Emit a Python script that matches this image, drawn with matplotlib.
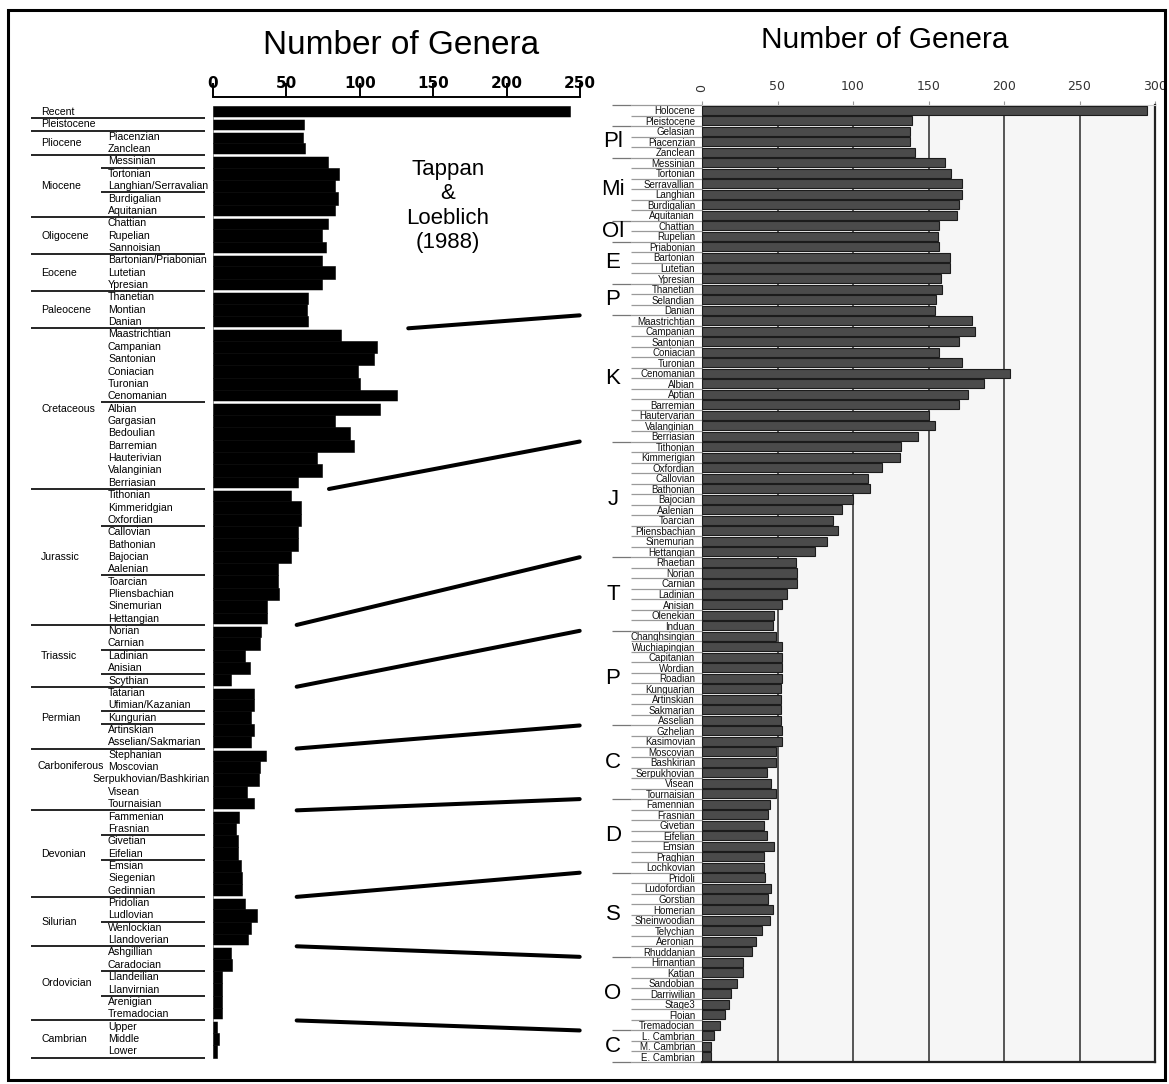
import numpy as np
import matplotlib
matplotlib.use('Agg')
import matplotlib.pyplot as plt
import matplotlib.transforms as mtransforms
from matplotlib.patches import Rectangle, ConnectionPatch

plt.rcParams['font.family'] = ['Liberation Sans', 'DejaVu Sans']

W, H = 1169, 1084

# ---- left panel: Tappan & Loeblich (1988) ----
left_periods = ['Recent', 'Pleistocene', 'Pliocene', 'Miocene', 'Oligocene', 'Eocene', 'Paleocene',
                'Cretaceous', 'Jurassic', 'Triassic', 'Permian', 'Carboniferous', 'Devonian',
                'Silurian', 'Ordovician', 'Cambrian']
left_period_sizes = [1, 1, 2, 5, 3, 3, 3, 13, 11, 5, 5, 5, 7, 4, 6, 3]
left_stages = ['', '', 'Piacenzian', 'Zanclean', 'Messinian', 'Tortonian', 'Langhian/Serravalian',
               'Burdigalian', 'Aquitanian', 'Chattian', 'Rupelian', 'Sannoisian', 'Bartonian/Priabonian',
               'Lutetian', 'Ypresian', 'Thanetian', 'Montian', 'Danian', 'Maastrichtian', 'Campanian',
               'Santonian', 'Coniacian', 'Turonian', 'Cenomanian', 'Albian', 'Gargasian', 'Bedoulian',
               'Barremian', 'Hauterivian', 'Valanginian', 'Berriasian', 'Tithonian', 'Kimmeridgian',
               'Oxfordian', 'Callovian', 'Bathonian', 'Bajocian', 'Aalenian', 'Toarcian', 'Pliensbachian',
               'Sinemurian', 'Hettangian', 'Norian', 'Carnian', 'Ladinian', 'Anisian', 'Scythian',
               'Tatarian', 'Ufimian/Kazanian', 'Kungurian', 'Artinskian', 'Asselian/Sakmarian',
               'Stephanian', 'Moscovian', 'Serpukhovian/Bashkirian', 'Visean', 'Tournaisian',
               'Fammenian', 'Frasnian', 'Givetian', 'Eifelian', 'Emsian', 'Siegenian', 'Gedinnian',
               'Pridolian', 'Ludlovian', 'Wenlockian', 'Llandoverian', 'Ashgillian', 'Caradocian',
               'Llandeilian', 'Llanvirnian', 'Arenigian', 'Tremadocian', 'Upper', 'Middle', 'Lower']
left_values = [243, 62, 61, 63, 78, 86, 83, 85, 83, 78, 74, 77, 74, 83, 74, 65, 64, 65,
               87, 112, 110, 99, 100, 125, 114, 83, 93, 96, 71, 74, 58,
               53, 60, 60, 58, 58, 53, 44, 44, 45, 37, 37,
               33, 32, 22, 25, 12, 28, 28, 26, 28, 26, 36, 32, 31, 23, 28,
               18, 16, 17, 17, 19, 20, 20, 22, 30, 26, 24, 12, 13, 6, 6, 6, 6, 3, 4, 3]
left_sub_breaks = [4, 6, 23, 33, 37, 43, 45, 48, 49, 58, 60, 65, 69, 71]
left_ticks = [0, 50, 100, 150, 200, 250]

# ---- right panel ----
right_periods = ['', 'Pl', 'Mi', 'Ol', 'E', 'P', 'K', 'J', 'T', 'P', 'C', 'D', 'S', 'O', 'C']
right_period_sizes = [2, 3, 6, 2, 4, 3, 12, 11, 7, 9, 7, 7, 8, 7, 3]
right_stages = ['Holocene', 'Pleistocene', 'Gelasian', 'Piacenzian', 'Zanclean', 'Messinian',
                'Tortonian', 'Serravallian', 'Langhian', 'Burdigalian', 'Aquitanian', 'Chattian',
                'Rupelian', 'Priabonian', 'Bartonian', 'Lutetian', 'Ypresian', 'Thanetian',
                'Selandian', 'Danian', 'Maastrichtian', 'Campanian', 'Santonian', 'Coniacian',
                'Turonian', 'Cenomanian', 'Albian', 'Aptian', 'Barremian', 'Hautervarian',
                'Valanginian', 'Berriasian', 'Tithonian', 'Kimmerigian', 'Oxfordian', 'Callovian',
                'Bathonian', 'Bajocian', 'Aalenian', 'Toarcian', 'Pliensbachian', 'Sinemurian',
                'Hettangian', 'Rhaetian', 'Norian', 'Carnian', 'Ladinian', 'Anisian', 'Olenekian',
                'Induan', 'Changhsingian', 'Wuchiapingian', 'Capitanian', 'Wordian', 'Roadian',
                'Kunguarian', 'Artinskian', 'Sakmarian', 'Asselian', 'Gzhelian', 'Kasimovian',
                'Moscovian', 'Bashkirian', 'Serpukhovian', 'Visean', 'Tournaisian', 'Famennian',
                'Frasnian', 'Givetian', 'Eifelian', 'Emsian', 'Praghian', 'Lochkovian', 'Pridoli',
                'Ludofordian', 'Gorstian', 'Homerian', 'Sheinwoodian', 'Telychian', 'Aeronian',
                'Rhuddanian', 'Hirnantian', 'Katian', 'Sandobian', 'Darriwilian', 'Stage3', 'Floian',
                'Tremadocian', 'L. Cambrian', 'M. Cambrian', 'E. Cambrian']
right_values = [295, 139, 138, 138, 141, 161, 165, 172, 172, 170, 169, 157, 156, 157, 164, 164,
                158, 159, 155, 154, 179, 181, 170, 157, 172, 204, 187, 176, 170, 150, 154, 143,
                132, 131, 119, 110, 111, 100, 93, 87, 90, 83, 75, 62, 63, 63, 56, 53, 48, 47,
                49, 53, 53, 53, 53, 52, 52, 52, 52, 53, 53, 49, 49, 43, 46, 49, 45, 44, 41, 43,
                48, 41, 41, 42, 46, 44, 47, 45, 40, 36, 33, 27, 27, 23, 19, 18, 15, 12, 8, 6, 6]
right_ticks = [0, 50, 100, 150, 200, 250, 300]

# connectors: left boundary -> right boundary
link_left = [17.5, 30.5, 41.5, 46.5, 51.5, 56.5, 63.5, 67.5, 73.5]
link_right = [19.5, 31.5, 42.5, 49.5, 58.5, 65.5, 72.5, 80.5, 87.5]
link_start = [133, 79, 57, 57, 57, 57, 57, 57, 57]


def fx(x):
    return x / W


def fy(y):
    return 1 - y / H


fig = plt.figure(figsize=(W / 100, H / 100), dpi=100)

# ---------------- left ----------------
row0, step = 112, 12.36
ax_l = fig.add_axes([fx(213), fy(1075), (580 - 213) / W, (1075 - 97) / H])
ax_l.patch.set_visible(False)
n_l = len(left_values)
ax_l.barh(np.arange(n_l), left_values, height=1.0, color='black', edgecolor='black', linewidth=0.4)
ax_l.set_xlim(0, 250)
ax_l.set_ylim((1075 - row0) / step, (97 - row0) / step)
ax_l.xaxis.tick_top()
ax_l.set_xticks(left_ticks)
ax_l.set_xticklabels([str(t) for t in left_ticks], fontweight='bold', family='DejaVu Sans')
ax_l.tick_params(axis='x', direction='out', length=10, width=1.4, pad=-5.5, labelsize=11)
ax_l.set_yticks([])
for s in ['left', 'right', 'bottom']:
    ax_l.spines[s].set_visible(False)
ax_l.spines['top'].set_linewidth(1.4)

tl = mtransforms.blended_transform_factory(fig.transFigure, ax_l.transData)
ends = np.cumsum(left_period_sizes)
starts = ends - np.array(left_period_sizes)
for name, a, b in zip(left_periods, starts, ends):
    yc = (a + b - 1) / 2
    if name == 'Carboniferous':
        yc -= 1.1   # sits above the long Serpukhovian/Bashkirian label
    ax_l.text(fx(38 if name == 'Carboniferous' else 41), yc, name, transform=tl, ha='left',
              va='center', fontsize=7.6)
for i, name in enumerate(left_stages):
    if name:
        x0 = 108 if len(name) <= 20 else 92
        ax_l.text(fx(x0), i, name, transform=tl, ha='left', va='center', fontsize=7.6)
ax_l.hlines(ends - 0.5, fx(31), fx(205), transform=tl, color='black', lw=1.2, clip_on=False)
ax_l.hlines(np.array(left_sub_breaks) + 0.5, fx(101), fx(205), transform=tl, color='black', lw=1.2,
            clip_on=False)
# white gaps between period blocks
for b in list(ends[:-1]) + [24]:
    top = max(left_values[b - 1], left_values[b])
    ax_l.hlines(b - 0.5, 0, top + 1, color='white', lw=1.8, zorder=3)

# ---------------- right ----------------
ax_r = fig.add_axes([fx(702), fy(1062), 453 / W, 957 / H])
n_r = len(right_values)
ax_r.set_facecolor('#f6f6f6')
ax_r.barh(np.arange(n_r), right_values, height=0.86, color='#4b4b4b', edgecolor='#1c1c1c',
          linewidth=0.8, zorder=3)
ax_r.set_xlim(0, 300)
ax_r.set_ylim(n_r - 0.5, -0.5)
for g in right_ticks[1:-1]:
    ax_r.axvline(g, color='#3a3a3a', lw=1.2, zorder=1)
ax_r.xaxis.tick_top()
ax_r.set_xticks(right_ticks)
ax_r.set_xticklabels([str(t) for t in right_ticks], family='DejaVu Sans', color='#333333')
ax_r.get_xticklabels()[0].set_rotation(90)
ax_r.tick_params(axis='x', length=3, color='#999999', pad=6, labelsize=9)
ax_r.set_yticks(np.arange(n_r))
ax_r.set_yticklabels(right_stages, fontsize=7, color='#111111')
ax_r.tick_params(axis='y', length=0, pad=5)
ax_r.spines['top'].set_color('#cccccc')
ax_r.spines['top'].set_linewidth(0.8)
ax_r.spines['left'].set_color('#777777')
for s in ['right', 'bottom']:
    ax_r.spines[s].set_color('#222222')
    ax_r.spines[s].set_linewidth(1.6)

tr = mtransforms.blended_transform_factory(fig.transFigure, ax_r.transData)
ax_r.hlines(np.arange(n_r + 1) - 0.5, fx(631), fx(702), transform=tr, color='#9a9a9a', lw=0.9,
            clip_on=False)
r_ends = np.cumsum(right_period_sizes)
r_starts = r_ends - np.array(right_period_sizes)
ax_r.hlines(np.concatenate([[-0.5], r_ends - 0.5]), fx(612), fx(631), transform=tr,
            color='#777777', lw=0.9, clip_on=False)
for name, a, b in zip(right_periods, r_starts, r_ends):
    if name:
        ax_r.text(fx(613), (a + b - 1) / 2, name, transform=tr, ha='center', va='center',
                  fontsize=16)

# ---------------- connectors ----------------
for ly, ry, lx in zip(link_left, link_right, link_start):
    con = ConnectionPatch(xyA=(lx, ly), coordsA=ax_l.transData, xyB=(-81, ry), coordsB=ax_r.transData,
                          color='black', lw=2.9)
    fig.add_artist(con)

# ---------------- text ----------------
fig.text(fx(401), fy(45), 'Number of Genera', ha='center', va='center', fontsize=24)
fig.text(fx(885), fy(40), 'Number of Genera', ha='center', va='center', fontsize=21.5)
fig.text(fx(448), fy(206), 'Tappan\n&\nLoeblich\n(1988)', ha='center', va='center', fontsize=16,
         linespacing=1.2)

fig.add_artist(Rectangle((fx(8), fy(1080)), (1165 - 8) / W, (1080 - 10) / H, fill=False,
                         lw=2.2, edgecolor='black', transform=fig.transFigure))

fig.savefig('out.png', dpi=100)
